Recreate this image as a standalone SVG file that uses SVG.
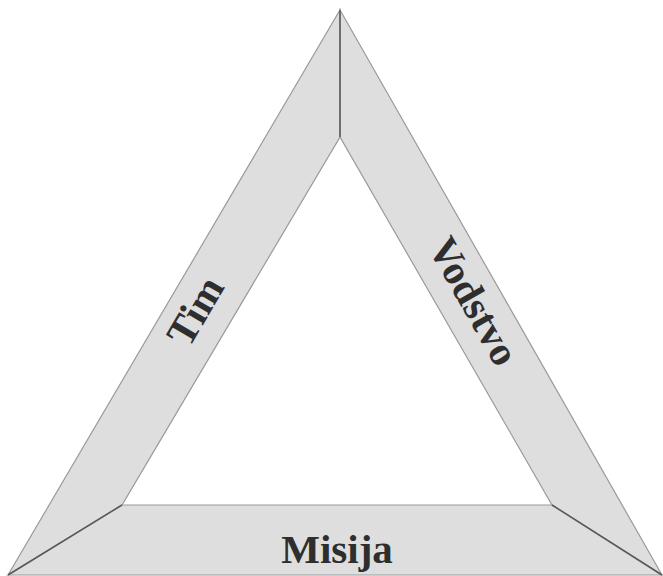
<svg xmlns="http://www.w3.org/2000/svg" width="663" height="576" viewBox="0 0 663 576">
<style>
.seg{fill:#dedede;stroke:#9a9a9a;stroke-width:1.2;stroke-linejoin:miter}
.div{stroke:#5a5a5a;stroke-width:1.5;fill:none}
.lbl{font-family:"Liberation Serif","Times New Roman",serif;font-weight:bold;font-size:41px;fill:#2e2e2e;text-anchor:middle}
</style>
<rect width="663" height="576" fill="#ffffff"/>
<g id="tim">
<polygon class="seg" points="340,10 340,137 122,505 8,575"/>
<text class="lbl" transform="translate(207,318) rotate(-59.6)">Tim</text>
</g>
<g id="vodstvo">
<polygon class="seg" points="340,10 662,575 552,505 340,137"/>
<text class="lbl" transform="translate(462,308) rotate(60.3)">Vodstvo</text>
</g>
<g id="misija">
<polygon class="seg" points="8,575 122,505 552,505 662,575"/>
<text class="lbl" x="337" y="563">Misija</text>
</g>
<g id="connectors">
<line class="div" x1="340" y1="10" x2="340" y2="137"/>
<line class="div" x1="8" y1="575" x2="122" y2="505"/>
<line class="div" x1="552" y1="505" x2="662" y2="575"/>
</g>
</svg>
